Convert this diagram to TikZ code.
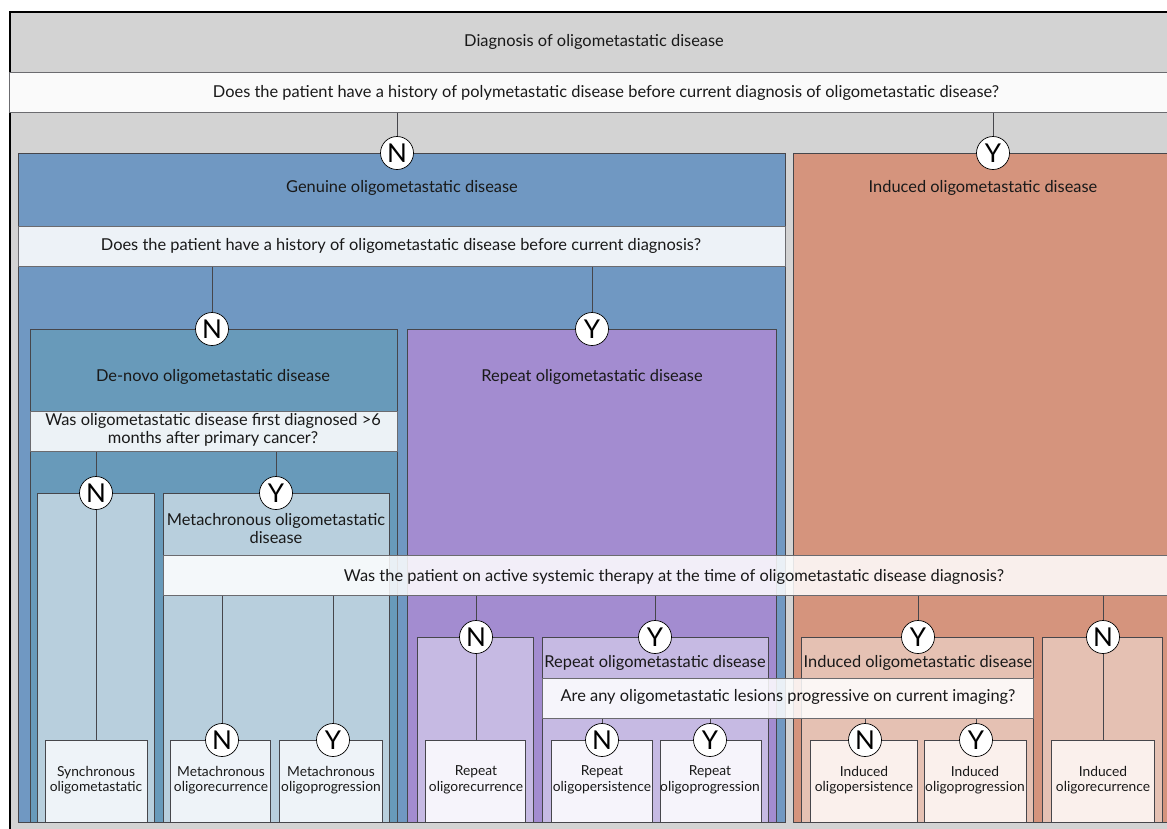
\documentclass[tikz,border=0pt]{standalone}
\usepackage{fontspec}
\setmainfont{Lato}
\definecolor{bggray}{RGB}{211,211,211}
\definecolor{genblue}{RGB}{112,152,194}
\definecolor{denovo}{RGB}{104,154,186}
\definecolor{metalight}{RGB}{184,207,221}
\definecolor{leafblue}{RGB}{238,243,248}
\definecolor{reppurple}{RGB}{163,140,208}
\definecolor{replight}{RGB}{198,186,227}
\definecolor{leafpurple}{RGB}{246,244,251}
\definecolor{indsalmon}{RGB}{213,148,125}
\definecolor{indlight}{RGB}{229,193,179}
\definecolor{leafsalmon}{RGB}{250,240,236}
\definecolor{edge}{RGB}{70,70,75}
\tikzset{
  region/.style={draw=edge, line width=0.8pt, anchor=north west, inner sep=0pt},
  qband/.style={draw=edge!80, line width=0.8pt, fill=white, fill opacity=0.88, anchor=north west, inner sep=0pt, minimum height=40pt},
  yn/.style={circle, draw=black, line width=0.7pt, fill=white, minimum size=33pt, inner sep=0pt, font=\fontsize{26}{26}\selectfont},
  lbl/.style={font=\fontsize{16.4}{18}\selectfont, align=center, inner sep=0pt, text=black!90},
  leaflbl/.style={font=\fontsize{13.8}{15.5}\selectfont, align=center, inner sep=0pt, text=black!90},
  conn/.style={draw=edge, line width=0.8pt},
}
\begin{document}
\begin{tikzpicture}[x=1pt,y=-1pt]
\useasboundingbox (0,0) rectangle (1167,828);
\clip (0,0) rectangle (1167,828);
% outer frame
\node[region, draw=black, line width=1.5pt, fill=bggray, minimum width=1171pt, minimum height=830pt] (outer) at (9,11) {};
\node[lbl] (title) at (594,42) {Diagnosis of oligometastatic disease};
\node[qband, fill opacity=1, fill={rgb,255:red,250;green,250;blue,250}, minimum width=1171pt] (q1) at (9,72) {};
\node[lbl] (q1t) at (606,93) {Does the patient have a history of polymetastatic disease before current diagnosis of oligometastatic disease?};

% level 1 regions
\node[region, fill=genblue, minimum width=767pt, minimum height=669pt] (genuine) at (18,153) {};
\node[region, fill=indsalmon, minimum width=400pt, minimum height=669pt] (induced) at (793,153) {};
\node[lbl] (genuinet) at (402,188) {Genuine oligometastatic disease};
\node[lbl] (inducedt) at (983,188) {Induced oligometastatic disease};
\node[qband, minimum width=767pt] (q2) at (18,226) {};
\node[lbl] (q2t) at (401,246) {Does the patient have a history of oligometastatic disease before current diagnosis?};

% level 2 regions
\node[region, fill=denovo, minimum width=367pt, minimum height=493pt] (denovo) at (30,329) {};
\node[region, fill=reppurple, minimum width=369pt, minimum height=493pt] (repeat) at (407,329) {};
\node[lbl] (denovot) at (213,377) {De-novo oligometastatic disease};
\node[lbl] (repeatt) at (592,377) {Repeat oligometastatic disease};
\node[qband, minimum width=367pt] (q3) at (30,411) {};
\node[lbl] (q3t) at (213,430) {Was oligometastatic disease first diagnosed >6\\months after primary cancer?};

% level 3 de-novo
\node[region, fill=metalight, minimum width=117pt, minimum height=329pt] (syncreg) at (37,493) {};
\node[region, fill=metalight, minimum width=226pt, minimum height=329pt] (metareg) at (163,493) {};
\node[lbl] (metat) at (276,529) {Metachronous oligometastatic\\disease};

% big question band
\node[qband, fill opacity=0.86, minimum width=1022pt] (q4) at (163,555) {};
\node[lbl] (q4t) at (674,577) {Was the patient on active systemic therapy at the time of oligometastatic disease diagnosis?};

% level 3 repeat / induced
\node[region, fill=replight, minimum width=116pt, minimum height=185pt] (repN) at (417,637) {};
\node[region, fill=replight, minimum width=226pt, minimum height=185pt] (repY) at (542,637) {};
\node[region, fill=indlight, minimum width=232pt, minimum height=185pt] (indY) at (801,637) {};
\node[region, fill=indlight, minimum width=120pt, minimum height=185pt] (indN) at (1042,637) {};
\node[lbl] (repYt) at (655,663) {Repeat oligometastatic disease};
\node[lbl] (indYt) at (918,663) {Induced oligometastatic disease};
\node[qband, fill opacity=0.86, minimum width=491pt] (q5) at (542,678) {};
\node[lbl] (q5t) at (788,697) {Are any oligometastatic lesions progressive on current imaging?};

% leaves
\node[region, fill=leafblue, minimum width=102pt, minimum height=82pt] (sync) at (45,740) {};
\node[region, fill=leafblue, minimum width=100pt, minimum height=82pt] (metarec) at (170,740) {};
\node[region, fill=leafblue, minimum width=103pt, minimum height=82pt] (metaprog) at (279,740) {};
\node[region, fill=leafpurple, minimum width=100pt, minimum height=82pt] (reprec) at (425,740) {};
\node[region, fill=leafpurple, minimum width=101pt, minimum height=82pt] (reppers) at (551,740) {};
\node[region, fill=leafpurple, minimum width=101pt, minimum height=82pt] (repprog) at (660,740) {};
\node[region, fill=leafsalmon, minimum width=107pt, minimum height=82pt] (indpers) at (810,740) {};
\node[region, fill=leafsalmon, minimum width=102pt, minimum height=82pt] (indprog) at (924,740) {};
\node[region, fill=leafsalmon, minimum width=103pt, minimum height=82pt] (indrec) at (1051,740) {};

\node[leaflbl] at (96,780) {Synchronous\\oligometastatic};
\node[leaflbl] at (221,780) {Metachronous\\oligorecurrence};
\node[leaflbl] at (331,780) {Metachronous\\oligoprogression};
\node[leaflbl] at (476,780) {Repeat\\oligorecurrence};
\node[leaflbl] at (602,780) {Repeat\\oligopersistence};
\node[leaflbl] at (710,780) {Repeat\\oligoprogression};
\node[leaflbl] at (864,780) {Induced\\oligopersistence};
\node[leaflbl] at (975,780) {Induced\\oligoprogression};
\node[leaflbl] at (1103,780) {Induced\\oligorecurrence};

% circles
\node[yn] (cGen) at (397,153) {N};
\node[yn] (cInd) at (993,153) {Y};
\node[yn] (cDen) at (212,329) {N};
\node[yn] (cRep) at (592,329) {Y};
\node[yn] (cSyn) at (96,493) {N};
\node[yn] (cMet) at (276,493) {Y};
\node[yn] (cMR) at (222,740) {N};
\node[yn] (cMP) at (333,740) {Y};
\node[yn] (cRN) at (476,637) {N};
\node[yn] (cRY) at (655,637) {Y};
\node[yn] (cRPe) at (602,740) {N};
\node[yn] (cRPr) at (710,740) {Y};
\node[yn] (cIY) at (918,637) {Y};
\node[yn] (cIN) at (1103,637) {N};
\node[yn] (cIPe) at (865,740) {N};
\node[yn] (cIPr) at (976,740) {Y};

% connectors
\draw[conn] (q1.south -| cGen) -- (cGen.north);
\draw[conn] (q1.south -| cInd) -- (cInd.north);
\draw[conn] (q2.south -| cDen) -- (cDen.north);
\draw[conn] (q2.south -| cRep) -- (cRep.north);
\draw[conn] (q3.south -| cSyn) -- (cSyn.north);
\draw[conn] (q3.south -| cMet) -- (cMet.north);
\draw[conn] (cSyn.south) -- (sync.north -| cSyn);
\draw[conn] (q4.south -| cMR) -- (cMR.north);
\draw[conn] (q4.south -| cMP) -- (cMP.north);
\draw[conn] (q4.south -| cRN) -- (cRN.north);
\draw[conn] (q4.south -| cRY) -- (cRY.north);
\draw[conn] (q4.south -| cIY) -- (cIY.north);
\draw[conn] (q4.south -| cIN) -- (cIN.north);
\draw[conn] (cRN.south) -- (reprec.north -| cRN);
\draw[conn] (cIN.south) -- (indrec.north -| cIN);
\draw[conn] (q5.south -| cRPe) -- (cRPe.north);
\draw[conn] (q5.south -| cRPr) -- (cRPr.north);
\draw[conn] (q5.south -| cIPe) -- (cIPe.north);
\draw[conn] (q5.south -| cIPr) -- (cIPr.north);
\end{tikzpicture}
\end{document}
